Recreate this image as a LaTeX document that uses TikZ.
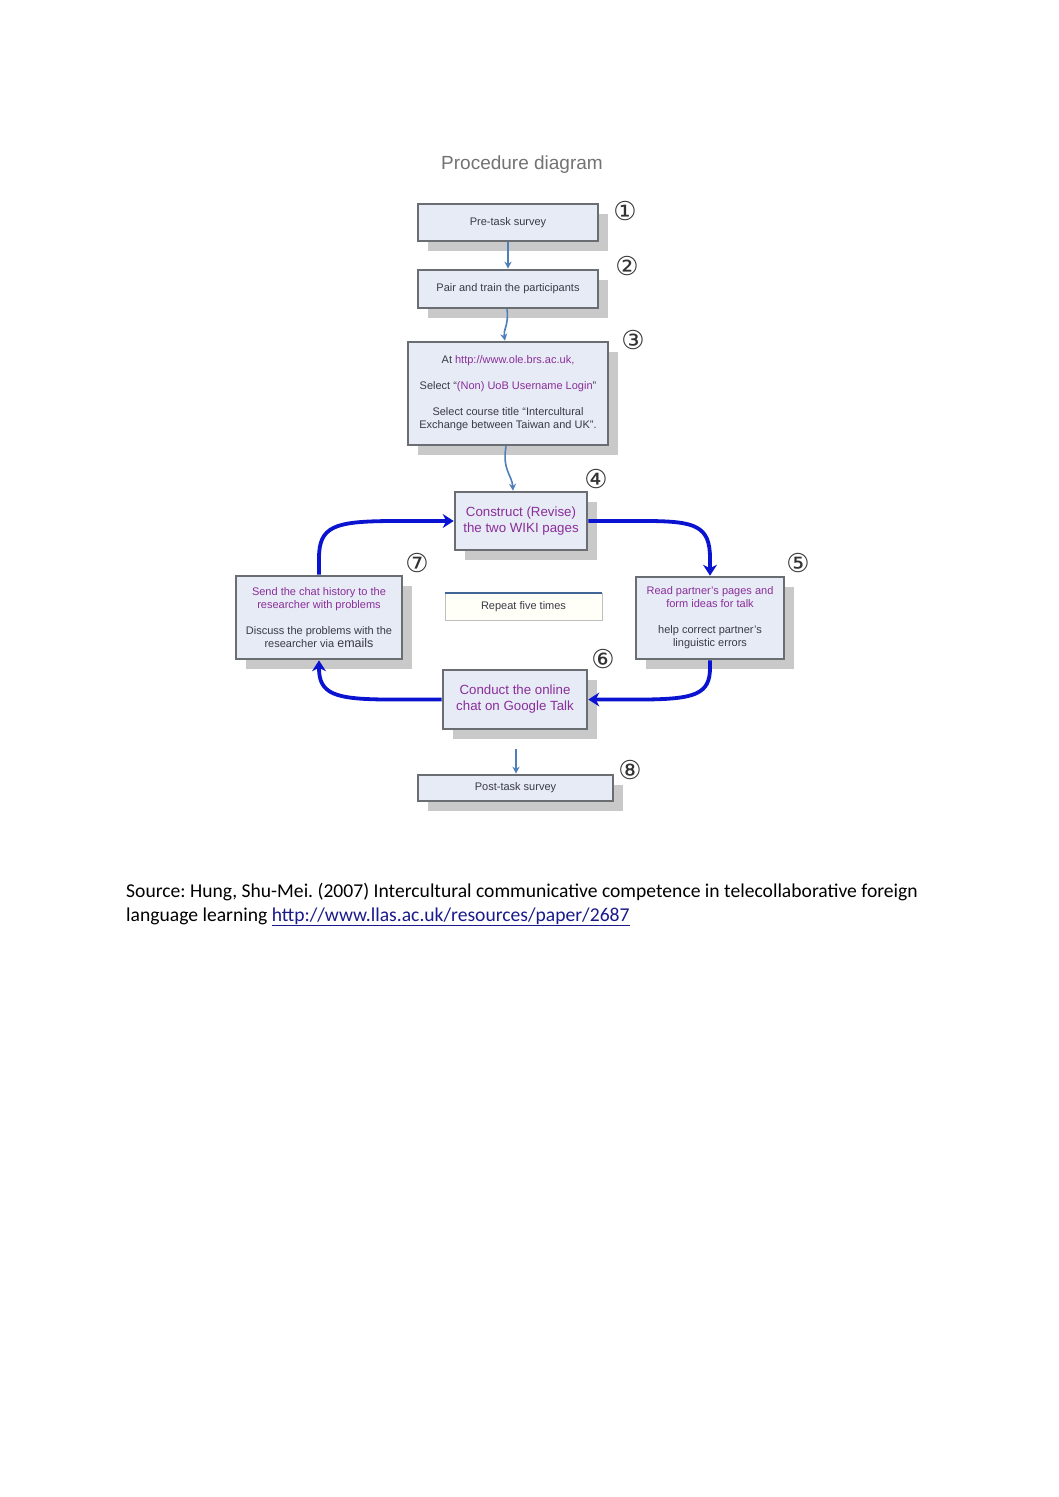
\documentclass[tikz,border=0pt]{standalone}
\usepackage{fontspec}
\setmainfont{Liberation Sans}
\newfontfamily\srcfont{Carlito}
\newfontfamily\symfont{DejaVu Sans}
\usetikzlibrary{arrows.meta,shadows,calc}
\definecolor{boxfill}{HTML}{E6EBF5}
\definecolor{boxline}{HTML}{6A6D72}
\definecolor{shadowgray}{HTML}{C9C9C9}
\definecolor{thinblue}{HTML}{4F7FBA}
\definecolor{thickblue}{HTML}{0A14D0}
\definecolor{purp}{HTML}{8A2E9A}
\definecolor{darktext}{HTML}{3A3A48}
\definecolor{linkblue}{HTML}{1A1A8C}
\begin{document}
\frenchspacing
\begin{tikzpicture}[x=1pt,y=-1pt,
  pbox/.style={draw=boxline, line width=2.6pt, fill=boxfill, align=center, inner sep=2pt,
    text=darktext, general shadow={fill=shadowgray, shadow xshift=10pt, shadow yshift=-10pt}},
  small/.style={font=\fontsize{11}{13}\selectfont},
  big/.style={font=\fontsize{13.3}{16}\selectfont},
  num/.style={font=\symfont\fontsize{26}{26}\selectfont, text=black!80},
  thin/.style={draw=thinblue, line width=1.6pt, -{Stealth[length=7pt,width=7pt]}},
  thick/.style={draw=thickblue, line width=3.8pt, -{Stealth[length=11pt,width=14pt]}},
  srcstyle/.style={font=\srcfont\fontsize{19.6}{24}\selectfont, anchor=base west, inner sep=0pt}
]
\useasboundingbox (0,0) rectangle (1058,1497);
\fill[white] (0,0) rectangle (1058,1497);

\node[font=\fontsize{19}{19}\selectfont, text=black!55] (title) at (522,165) {Procedure diagram};

\node[pbox, small, minimum width=180pt, minimum height=37pt] (b1) at (508,222.5) {Pre-task survey};
\node[pbox, small, minimum width=180pt, minimum height=38pt] (b2) at (508,289) {Pair and train the participants};
\node[pbox, small, minimum width=200pt, minimum height=103pt] (b3) at (508,393.5)
  {At \textcolor{purp}{http://www.ole.brs.ac.uk,}\\[13pt]
   Select “\textcolor{purp}{(Non) UoB Username Login}”\\[13pt]
   Select course title “Intercultural\\ Exchange between Taiwan and UK”.};
\node[pbox, big, text=purp, minimum width=132pt, minimum height=58pt] (b4) at (521,521)
  {Construct (Revise)\\ the two WIKI pages};
\node[pbox, small, minimum width=148pt, minimum height=82pt] (b5) at (710,618)
  {\textcolor{purp}{Read partner's pages and}\\ \textcolor{purp}{form ideas for talk}\\[13pt]
   help correct partner's\\ linguistic errors};
\node[pbox, big, text=purp, minimum width=144pt, minimum height=59pt] (b6) at (515,699.5)
  {Conduct the online\\ chat on Google Talk};
\node[pbox, small, minimum width=166pt, minimum height=83pt] (b7) at (319,617.5)
  {\textcolor{purp}{Send the chat history to the}\\ \textcolor{purp}{researcher with problems}\\[13pt]
   Discuss the problems with the\\ researcher via {\fontsize{12.5}{13}\selectfont emails}};
\node[pbox, small, minimum width=195pt, minimum height=26pt] (b8) at (515.5,788) {Post-task survey};

\node[draw=black!25, line width=0.8pt, fill=yellow!3, small, text=darktext,
  minimum width=157pt, minimum height=27pt] (rep) at (523.5,606.5) {Repeat five times};
\draw[draw=thinblue!80!black, line width=2pt] (rep.north west) -- (rep.north east);

\node[num] (n1) at (625,211) {①};
\node[num] (n2) at (627,266) {②};
\node[num] (n3) at (633,340) {③};
\node[num] (n4) at (596,479) {④};
\node[num] (n5) at (798,563) {⑤};
\node[num] (n6) at (603,659) {⑥};
\node[num] (n7) at (417,563) {⑦};
\node[num] (n8) at (630,770) {⑧};

% thin arrows
\draw[thin] (b1.south) -- (b2.north);
\draw[thin] ($(b2.south)+(-1,0)$) .. controls (509,325) and (503,330) .. ($(b3.north)+(-3,0)$);
\draw[thin] ($(b3.south)+(-2,0)$) .. controls (502,470) and (512,475) .. ($(b4.north)+(-8,0)$);
\coordinate (s8) at (516,749);
\draw[thin] (s8) -- ($(b8.north)+(0.5,0)$);

% cycle arrows
\draw[thick] (b7.north) -- (319,558) .. controls (319,526) and (335,521.5) .. (390,521) -- (b4.west);
\draw[thick] (b4.east) -- (650,521) .. controls (695,521.5) and (710,526) .. (710,558) -- (b5.north);
\draw[thick] (b5.south) -- (710,668) .. controls (710,694) and (695,699) .. (645,699.5) -- (b6.east);
\draw[thick] (b6.west) -- (385,699.5) .. controls (335,699) and (319,694) .. (319,668) -- (b7.south);

% source
\node[srcstyle] (src1) at (126,897) {Source: Hung, Shu-Mei. (2007) Intercultural communicative competence in telecollaborative foreign};
\node[srcstyle] (src2) at (126,921) {language learning \textcolor{linkblue}{\underline{http://www.llas.ac.uk/resources/paper/2687}}};
\end{tikzpicture}
\end{document}
